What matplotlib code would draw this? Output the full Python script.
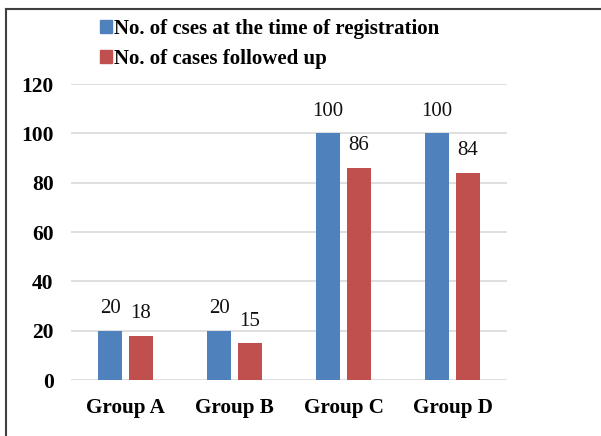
import matplotlib
matplotlib.use("Agg")
import matplotlib.pyplot as plt
import numpy as np
from matplotlib.lines import Line2D
from matplotlib.patches import Patch

categories = ["Group A", "Group B", "Group C", "Group D"]
registered = [20, 20, 100, 100]
followed = [18, 15, 86, 84]
series_names = ["No. of cses at the time of registration", "No. of cases followed up"]
yticks = [0, 20, 40, 60, 80, 100, 120]

blue = "#4F81BD"
red = "#C0504D"

plt.rcParams["font.family"] = ["Liberation Serif", "DejaVu Serif"]

fig = plt.figure(figsize=(6.01, 4.36), dpi=100)
W, H = 601, 436
ax = fig.add_axes([71 / W, 1 - 380 / H, 436 / W, (380 - 84) / H])

x = np.arange(len(categories))
bw = 0.225
off = 0.142
b1 = ax.bar(x - off, registered, bw, color=blue, zorder=3)
b2 = ax.bar(x + off, followed, bw, color=red, zorder=3)

for bars in (b1, b2):
    for r in bars:
        ax.annotate(f"{int(r.get_height())}", (r.get_x() + r.get_width() / 2, r.get_height()),
                    xytext=(0, 9), textcoords="offset points", ha="center", va="bottom",
                    fontsize=15, color="#111111")

ax.set_xlim(-0.5, 3.5)
ax.set_ylim(0, 120)
ax.set_yticks(yticks)
ax.set_yticklabels([str(t) for t in yticks], fontsize=15.5, fontweight="bold")
ax.set_xticks(x)
ax.set_xticklabels(categories, fontsize=15.2, fontweight="bold")
ax.tick_params(axis="both", length=0)
ax.tick_params(axis="y", pad=12.5)
ax.tick_params(axis="x", pad=13)
ax.grid(axis="y", color="#d9d9d9", linewidth=1.2, zorder=0)
for s in ax.spines.values():
    s.set_visible(False)

handles = [Patch(color=blue), Patch(color=red)]
leg = fig.legend(handles, series_names, loc="upper left", bbox_to_anchor=(85 / W, 1 - 4 / H),
                 frameon=False, prop={"family": ["Liberation Serif"], "weight": "bold", "size": 15},
                 handlelength=0.6, handleheight=0.6, handletextpad=0.1, labelspacing=0.5,
                 borderpad=0.2)

# figure frame (top and left edges visible)
fig.add_artist(Line2D([6 / W, 6 / W], [0, 1 - 9 / H], color="#404040", linewidth=1.5, transform=fig.transFigure))
fig.add_artist(Line2D([6 / W, 1], [1 - 9 / H, 1 - 9 / H], color="#404040", linewidth=1.5, transform=fig.transFigure))

fig.savefig("out.png", dpi=100)
